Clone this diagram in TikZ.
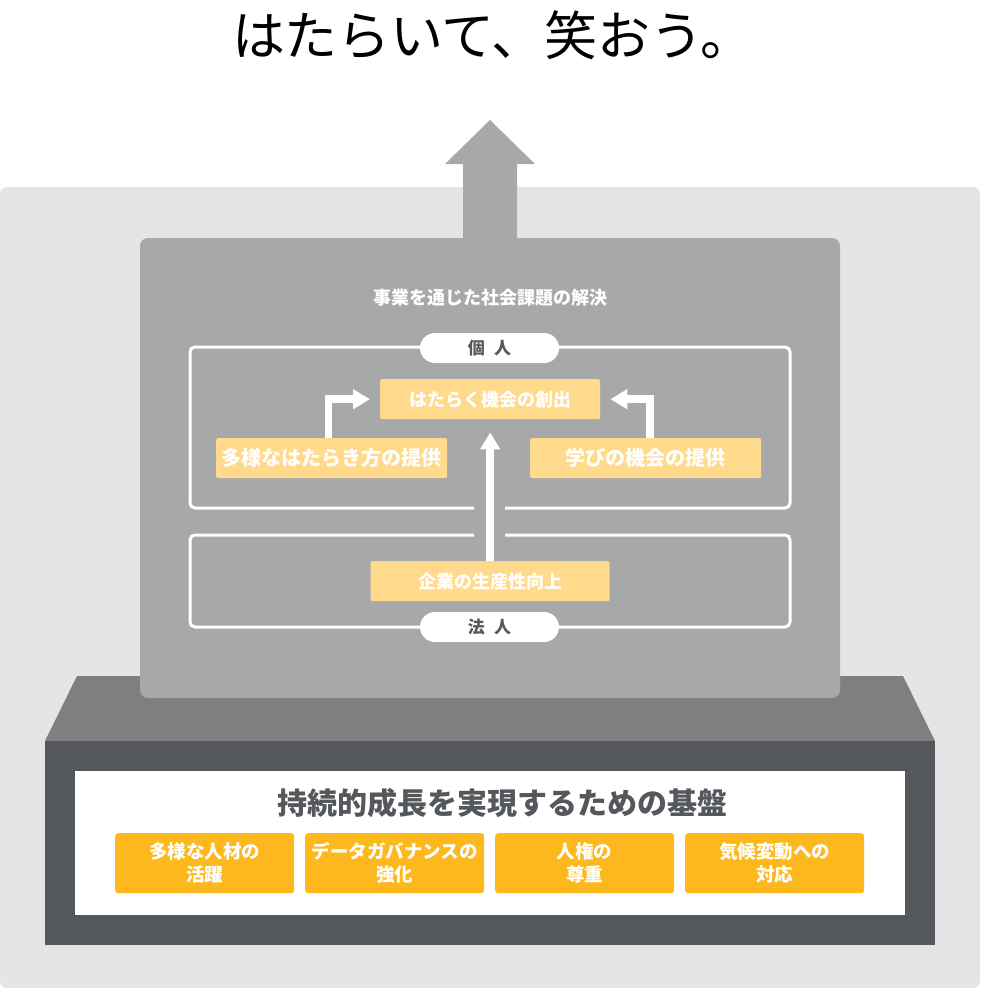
\documentclass[tikz,border=0pt]{standalone}
\usepackage{fontspec}
\setmainfont{Noto Sans CJK JP}
\usetikzlibrary{arrows.meta}
\definecolor{bglight}{HTML}{E5E5E5}
\definecolor{panelgray}{HTML}{A7A8AA}
\definecolor{trapgray}{HTML}{7F7F7F}
\definecolor{darkbase}{HTML}{54575B}
\definecolor{paleyellow}{HTML}{FFDA8C}
\definecolor{deepyellow}{HTML}{FDB81E}
\definecolor{pilltext}{HTML}{58595B}
\tikzset{
  px/.style={x=1pt,y=-1pt},
  palebox/.style={fill=paleyellow,rounded corners=2pt,text=white,font=\bfseries\fontsize{18}{20}\selectfont,inner sep=0pt,anchor=north west},
  bigpale/.style={palebox,font=\bfseries\fontsize{20}{22}\selectfont},
  deepbox/.style={fill=deepyellow,rounded corners=3pt,text=white,font=\bfseries\fontsize{18.5}{23}\selectfont,inner sep=0pt,anchor=north west,align=center,minimum width=179pt,minimum height=60pt},
  pill/.style={fill=white,rounded corners=15pt,minimum width=139pt,minimum height=30pt,inner sep=0pt,text=pilltext,font=\bfseries\fontsize{17}{20}\selectfont},
  frame/.style={draw=white,line width=3pt,rounded corners=5pt},
  whitearrow/.style={draw=white,line width=7.5pt,-{Triangle[width=19pt,length=17pt]}},
}
\begin{document}
\begin{tikzpicture}[px]
\useasboundingbox (0,0) rectangle (980,988);
% light background
\fill[bglight,rounded corners=7pt] (0,187) rectangle (980,988);
% big up arrow
\fill[panelgray] (463,240) -- (463,164) -- (445,164) -- (490,120) -- (535,164) -- (517,164) -- (517,240) -- cycle;
% title
\node[font=\fontsize{53}{58}\selectfont,text=black,inner sep=0pt] (title) at (493,35) {はたらいて、笑おう。};
% base trapezoid
\fill[trapgray] (77,676) -- (903,676) -- (935,741) -- (45,741) -- cycle;
% dark base box
\fill[darkbase] (45,741) rectangle (935,945);
\fill[white] (75,771) rectangle (905,915);
% panel
\fill[panelgray,rounded corners=8pt] (140,238) rectangle (840,698);
\node[text=white,font=\bfseries\fontsize{18}{20}\selectfont,inner sep=0pt] (header) at (490,298) {事業を通じた社会課題の解決};
% frames
\draw[frame] (474,508) -- (190,508) -- (190,347) -- (790,347) -- (790,508) -- (505,508);
\draw[frame] (505,535) -- (790,535) -- (790,627) -- (190,627) -- (190,535) -- (474,535);
\node[pill] (kojin) at (489.5,348) {個\hspace{0.55em}人};
\node[pill] (hojin) at (489.5,627) {法\hspace{0.55em}人};
% pale boxes
\node[palebox,minimum width=220pt,minimum height=40pt] (create) at (380,379) {はたらく機会の創出};
\node[bigpale,minimum width=231pt,minimum height=40pt] (diverse) at (216,438) {多様なはたらき方の提供};
\node[bigpale,minimum width=231pt,minimum height=40pt] (learn) at (530,438) {学びの機会の提供};
\node[palebox,minimum width=239pt,minimum height=40pt] (prod) at (370.5,561) {企業の生産性向上};
% arrows
\draw[whitearrow,shorten >=13pt] (prod.north) -- (create.south);
\draw[whitearrow,shorten >=10pt] ([xshift=-3pt]diverse.north) |- (create.west);
\draw[whitearrow,shorten >=10pt] ([xshift=4.5pt]learn.north) |- (create.east);
% foundation
\node[text=darkbase,font=\bfseries\fontsize{30}{33}\selectfont,inner sep=0pt] (found) at (502,803) {持続的成長を実現するための基盤};
\node[deepbox] (d1) at (115,833) {多様な人材の\\活躍};
\node[deepbox] (d2) at (305,833) {データガバナンスの\\強化};
\node[deepbox] (d3) at (495,833) {人権の\\尊重};
\node[deepbox] (d4) at (685,833) {気候変動への\\対応};
\end{tikzpicture}
\end{document}
